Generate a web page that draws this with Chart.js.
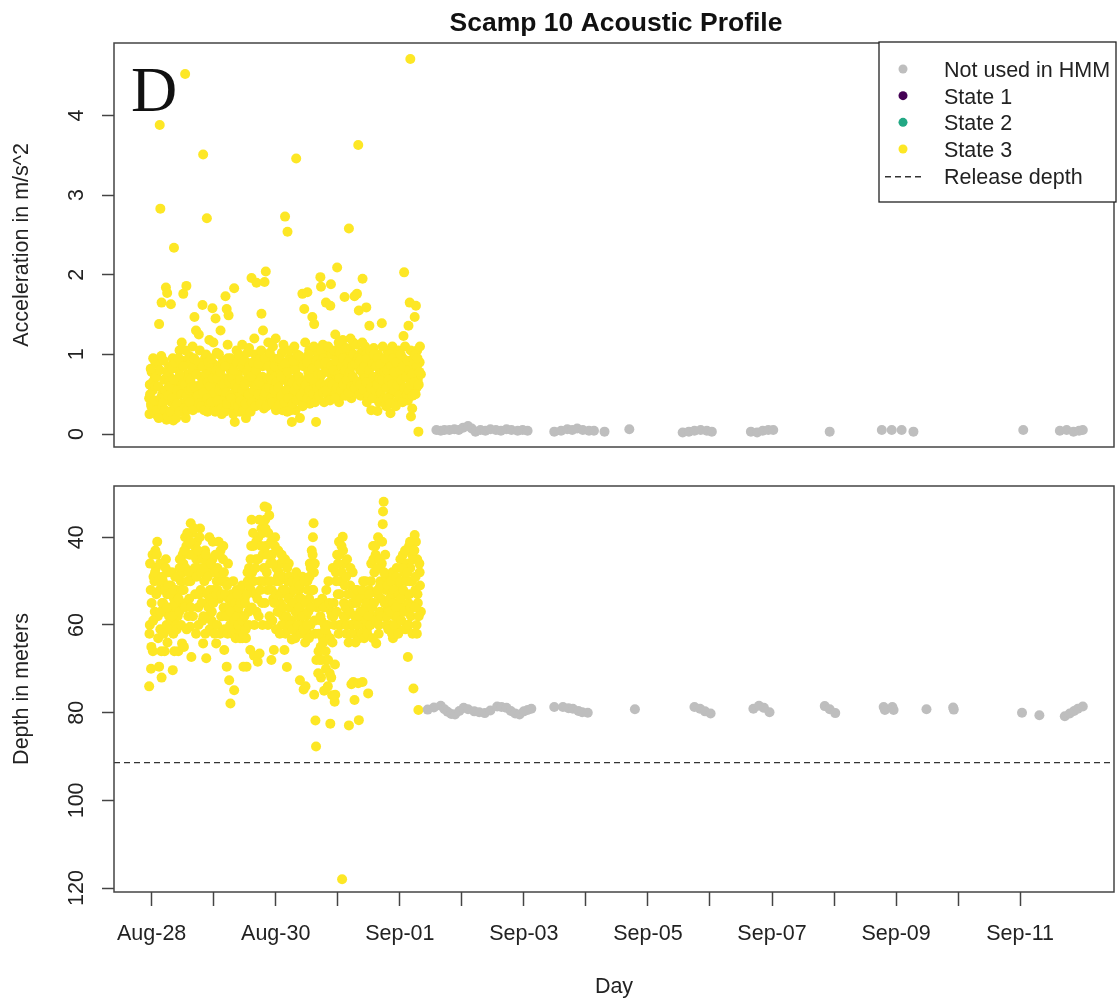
<!DOCTYPE html>
<html>
<head>
<meta charset="utf-8">
<title>Scamp 10 Acoustic Profile</title>
<script src="https://cdn.jsdelivr.net/npm/chart.js@4.4.1/dist/chart.umd.min.js"></script>
<style>
  html, body { margin: 0; padding: 0; background: #fff; }
  #wrap { position: relative; width: 1119px; height: 1001px; }
  canvas { position: absolute; left: 0; }
  #accelChart { top: 0; }
  #depthChart { top: 460px; }
</style>
</head>
<body>
<div id="wrap">
  <canvas id="accelChart" width="1119" height="460"></canvas>
  <canvas id="depthChart" width="1119" height="541"></canvas>
</div>
<script>
'use strict';

// days since Aug-28 00:00
const dayTicks = [0, 1, 2, 3, 4, 5, 6, 7, 8, 9, 10, 11, 12, 13, 14];
const dayLabels = ['Aug-28', '', 'Aug-30', '', 'Sep-01', '', 'Sep-03', '', 'Sep-05', '', 'Sep-07', '', 'Sep-09', '', 'Sep-11'];
const accelTicks = [0, 1, 2, 3, 4];
const depthTicks = [40, 60, 80, 100, 120];
const releaseDepth = 91.4;

const chartTitle = 'Scamp 10 Acoustic Profile';
const panelLetter = 'D';
const legendLabels = ['Not used in HMM', 'State 1', 'State 2', 'State 3', 'Release depth'];

// State 3 detections (same detections in both panels)
const yellowDay = [
  -0.04, -0.03, -0.01, 0.00, 0.02, 0.03, 0.05, 0.06,
  0.07, 0.09, 0.10, 0.12, 0.13, 0.14, 0.16, 0.17,
  0.18, 0.20, 0.21, 0.23, 0.24, 0.25, 0.27, 0.28,
  0.29, 0.31, 0.32, 0.34, 0.35, 0.36, 0.38, 0.39,
  0.40, 0.42, 0.43, 0.45, 0.46, 0.47, 0.49, 0.50,
  0.51, 0.52, 0.54, 0.55, 0.56, 0.58, 0.59, 0.61,
  0.62, 0.63, 0.64, 0.66, 0.67, 0.69, 0.70, 0.72,
  0.73, 0.75, 0.76, 0.78, 0.79, 0.81, 0.82, 0.83,
  0.85, 0.86, 0.88, 0.89, 0.90, 0.92, 0.93, 0.94,
  0.95, 0.97, 0.98, 1.00, 1.01, 1.03, 1.04, 1.05,
  1.06, 1.08, 1.09, 1.11, 1.12, 1.13, 1.15, 1.16,
  1.17, 1.19, 1.20, 1.21, 1.23, 1.24, 1.25, 1.27,
  1.28, 1.30, 1.31, 1.33, 1.34, 1.35, 1.37, 1.38,
  1.39, 1.41, 1.42, 1.44, 1.45, 1.46, 1.48, 1.49,
  1.50, 1.52, 1.53, 1.55, 1.56, 1.57, 1.59, 1.60,
  1.61, 1.62, 1.64, 1.65, 1.67, 1.68, 1.69, 1.71,
  1.72, 1.74, 1.75, 1.77, 1.78, 1.79, 1.81, 1.82,
  1.83, 1.84, 1.86, 1.87, 1.88, 1.90, 1.91, 1.93,
  1.94, 1.96, 1.97, 1.99, 2.00, 2.01, 2.03, 2.04,
  2.05, 2.07, 2.08, 2.10, 2.11, 2.12, 2.14, 2.15,
  2.16, 2.18, 2.19, 2.21, 2.22, 2.23, 2.25, 2.26,
  2.27, 2.29, 2.30, 2.32, 2.33, 2.34, 2.36, 2.37,
  2.38, 2.39, 2.41, 2.42, 2.43, 2.45, 2.46, 2.48,
  2.49, 2.51, 2.52, 2.54, 2.55, 2.56, 2.58, 2.59,
  2.60, 2.61, 2.62, 2.63, 2.64, 2.65, 2.67, 2.69,
  2.71, 2.72, 2.73, 2.75, 2.76, 2.78, 2.79, 2.81,
  2.82, 2.84, 2.85, 2.87, 2.88, 2.89, 2.91, 2.92,
  2.93, 2.95, 2.96, 2.97, 2.99, 3.00, 3.02, 3.03,
  3.04, 3.06, 3.07, 3.08, 3.10, 3.11, 3.13, 3.14,
  3.15, 3.17, 3.18, 3.20, 3.21, 3.22, 3.24, 3.25,
  3.26, 3.27, 3.29, 3.30, 3.31, 3.33, 3.34, 3.36,
  3.37, 3.38, 3.40, 3.41, 3.43, 3.44, 3.46, 3.47,
  3.48, 3.49, 3.51, 3.52, 3.54, 3.55, 3.57, 3.58,
  3.59, 3.61, 3.62, 3.64, 3.65, 3.66, 3.68, 3.69,
  3.70, 3.71, 3.73, 3.74, 3.75, 3.77, 3.78, 3.80,
  3.81, 3.82, 3.84, 3.85, 3.86, 3.88, 3.89, 3.91,
  3.92, 3.94, 3.95, 3.97, 3.98, 3.99, 4.01, 4.02,
  4.03, 4.05, 4.06, 4.07, 4.09, 4.10, 4.12, 4.13,
  4.14, 4.15, 4.16, 4.17, 4.18, 4.20, 4.22, 4.24,
  4.25, 4.26, 4.27, 4.28, 4.29, 4.30, 4.32, 4.34,
  -0.035, -0.025, -0.015, -0.005, 0.015, 0.025, 0.045, 0.055,
  0.075, 0.085, 0.105, 0.115, 0.135, 0.145, 0.155, 0.175,
  0.185, 0.195, 0.215, 0.225, 0.245, 0.255, 0.265, 0.285,
  0.295, 0.305, 0.325, 0.335, 0.355, 0.365, 0.375, 0.395,
  0.405, 0.415, 0.435, 0.445, 0.455, 0.475, 0.485, 0.505,
  0.515, 0.525, 0.535, 0.545, 0.565, 0.575, 0.595, 0.605,
  0.615, 0.625, 0.635, 0.655, 0.665, 0.685, 0.695, 0.715,
  0.725, 0.745, 0.755, 0.765, 0.775, 0.795, 0.805, 0.825,
  0.835, 0.845, 0.865, 0.875, 0.895, 0.905, 0.915, 0.935,
  0.945, 0.955, 0.965, 0.985, 0.995, 1.015, 1.025, 1.045,
  1.055, 1.065, 1.085, 1.095, 1.105, 1.125, 1.135, 1.155,
  1.165, 1.175, 1.185, 1.205, 1.215, 1.225, 1.245, 1.265,
  1.275, 1.285, 1.305, 1.315, 1.325, 1.345, 1.355, 1.375,
  1.385, 1.395, 1.405, 1.425, 1.435, 1.455, 1.465, 1.475,
  1.495, 1.505, 1.515, 1.535, 1.545, 1.565, 1.575, 1.595,
  1.605, 1.615, 1.635, 1.645, 1.655, 1.675, 1.685, 1.705,
  1.715, 1.725, 1.735, 1.755, 1.765, 1.785, 1.795, 1.815,
  1.825, 1.835, 1.855, 1.865, 1.875, 1.895, 1.905, 1.925,
  1.935, 1.945, 1.955, 1.975, 1.985, 2.005, 2.015, 2.035,
  2.045, 2.055, 2.065, 2.085, 2.095, 2.115, 2.125, 2.145,
  2.155, 2.175, 2.185, 2.195, 2.205, 2.215, 2.235, 2.245,
  2.265, 2.275, 2.285, 2.305, 2.315, 2.335, 2.345, 2.355,
  2.375, 2.385, 2.405, 2.415, 2.435, 2.445, 2.465, 2.475,
  2.485, 2.505, 2.515, 2.525, 2.535, 2.545, 2.565, 2.575,
  2.595, 2.605, 2.615, 2.625, 2.635, 2.655, 2.665, 2.685,
  2.695, 2.705, 2.725, 2.735, 2.745, 2.765, 2.775, 2.795,
  2.805, 2.815, 2.835, 2.845, 2.865, 2.875, 2.895, 2.905,
  2.915, 2.935, 2.945, 2.955, 2.975, 2.985, 3.005, 3.015,
  3.025, 3.035, 3.055, 3.065, 3.085, 3.095, 3.115, 3.125,
  3.135, 3.145, 3.165, 3.175, 3.195, 3.205, 3.225, 3.235,
  3.245, 3.255, 3.275, 3.285, 3.305, 3.315, 3.325, 3.345,
  3.355, 3.365, 3.385, 3.395, 3.415, 3.425, 3.445, 3.455,
  3.465, 3.475, 3.495, 3.505, 3.525, 3.535, 3.555, 3.565,
  3.575, 3.585, 3.605, 3.615, 3.635, 3.645, 3.665, 3.675,
  3.685, 3.695, 3.715, 3.725, 3.745, 3.755, 3.765, 3.785,
  3.795, 3.805, 3.815, 3.835, 3.845, 3.865, 3.875, 3.895,
  3.905, 3.915, 3.935, 3.945, 3.965, 3.975, 3.985, 4.005,
  4.015, 4.025, 4.045, 4.055, 4.075, 4.085, 4.105, 4.115,
  4.125, 4.145, 4.155, 4.165, 4.175, 4.195, 4.205, 4.215,
  4.235, 4.245, 4.255, 4.275, 4.285, 4.305, 4.315, 4.325
];

const yellowAccel = [
  0.45, 0.62, 0.38, 0.78, 0.55, 0.30, 0.70, 0.90,
  0.35, 0.88, 0.22, 1.38, 3.88, 2.83, 1.65, 0.50,
  0.25, 0.68, 0.42, 1.84, 0.18, 1.77, 0.58, 0.85,
  0.72, 1.63, 0.40, 0.95, 0.17, 2.34, 0.55, 0.30,
  0.48, 0.82, 0.62, 1.05, 0.30, 0.70, 0.38, 0.92,
  1.76, 0.55, 4.52, 0.20, 1.86, 0.75, 0.42, 0.98,
  0.65, 0.90, 0.35, 1.10, 0.52, 1.47, 0.78, 0.44,
  0.60, 0.33, 1.25, 0.85, 0.50, 0.70, 1.62, 3.51,
  0.40, 0.95, 0.62, 2.71, 0.28, 0.80, 1.18, 0.55,
  0.72, 0.45, 1.58, 0.88, 0.32, 1.45, 0.60, 1.02,
  0.50, 0.85, 0.38, 1.30, 0.66, 0.25, 0.92, 0.58,
  0.45, 1.73, 0.70, 1.57, 0.95, 1.49, 0.35, 0.80,
  0.62, 0.30, 0.88, 1.83, 0.15, 0.55, 1.05, 0.42,
  0.75, 0.48, 0.28, 0.95, 0.60, 1.12, 0.40, 0.82,
  0.55, 0.20, 0.90, 0.45, 0.72, 1.08, 0.36, 0.65,
  1.96, 0.50, 0.78, 0.35, 1.00, 0.62, 1.90, 0.45,
  0.70, 0.42, 0.95, 1.51, 0.58, 0.85, 0.32, 1.91,
  0.60, 2.04, 0.88, 0.45, 1.15, 0.68, 0.40, 0.78,
  0.52, 0.95, 0.36, 0.72, 1.20, 0.48, 0.85, 0.62,
  0.42, 0.80, 0.55, 1.02, 0.30, 0.68, 0.90, 2.73,
  0.75, 0.40, 2.54, 0.62, 0.95, 0.35, 0.58, 0.15,
  0.85, 0.50, 1.10, 0.30, 3.46, 0.72, 0.45, 0.92,
  0.60, 0.20, 0.88, 0.40, 1.76, 0.66, 1.57, 0.95,
  0.48, 1.78, 0.70, 1.05, 0.38, 0.82, 0.58, 1.47,
  0.92, 0.60, 1.38, 0.45, 0.78, 0.15, 1.02, 0.52,
  0.70, 1.97, 1.85, 0.55, 1.12, 0.40, 0.85, 1.65,
  0.62, 1.00, 0.45, 0.88, 1.61, 1.88, 0.72, 0.50,
  0.85, 0.52, 1.25, 0.68, 2.09, 0.95, 0.40, 1.10,
  0.58, 0.90, 0.48, 1.18, 0.75, 1.72, 0.62, 1.00,
  0.82, 0.55, 2.58, 1.05, 0.70, 0.45, 0.92, 1.15,
  0.65, 1.73, 0.90, 0.52, 1.76, 3.63, 1.55, 0.80,
  0.48, 1.02, 1.95, 0.75, 0.60, 1.10, 1.59, 0.40,
  0.85, 0.55, 1.36, 0.72, 0.30, 0.95, 0.62, 1.08,
  0.50, 0.88, 0.68, 0.29, 1.00, 0.45, 0.78, 0.58,
  0.75, 1.39, 0.42, 0.95, 0.60, 0.82, 0.35, 1.05,
  0.62, 0.90, 0.48, 0.26, 0.78, 1.10, 0.55, 0.70,
  0.85, 0.40, 1.00, 0.65, 0.52, 0.92, 0.72, 0.45,
  0.60, 0.95, 1.23, 2.03, 0.75, 0.50, 0.88, 0.42,
  1.36, 0.70, 1.65, 4.71, 0.22, 0.32, 0.95, 1.47,
  0.80, 1.61, 0.58, 1.05, 0.68, 0.03, 0.90, 0.75,
  0.25, 0.50, 0.82, 0.35, 0.65, 0.95, 0.42, 0.60,
  0.72, 0.30, 0.60, 0.20, 0.80, 0.45, 0.98, 0.35,
  0.40, 0.92, 0.30, 0.55, 0.78, 0.22, 0.48, 0.65,
  0.60, 0.28, 0.82, 0.45, 0.68, 0.36, 0.90, 0.20,
  0.38, 0.55, 0.95, 0.28, 0.75, 0.50, 1.15, 0.62,
  0.85, 0.32, 0.62, 1.05, 0.48, 0.30, 0.70, 0.55,
  0.40, 0.68, 0.58, 0.82, 0.30, 0.95, 0.60, 1.30,
  0.75, 0.48, 0.90, 0.38, 1.05, 0.62, 0.35, 0.85,
  0.52, 0.30, 0.75, 1.00, 0.45, 0.65, 0.90, 0.38,
  0.60, 0.95, 0.40, 0.70, 1.15, 0.52, 0.28, 0.80,
  0.70, 0.42, 1.00, 0.55, 0.78, 0.32, 0.62, 0.88,
  0.62, 0.28, 0.85, 0.52, 0.38, 1.12, 0.66, 0.48,
  0.95, 0.45, 0.70, 0.25, 0.80, 0.62, 0.38, 0.90,
  0.58, 0.35, 1.00, 0.68, 0.42, 0.85, 0.55, 0.30,
  0.92, 0.62, 0.38, 0.78, 1.02, 0.50, 0.85, 0.28,
  0.72, 0.40, 0.90, 0.55, 1.20, 0.35, 0.80, 0.62,
  0.50, 0.88, 0.65, 0.38, 1.05, 0.72, 1.30, 0.48,
  0.95, 0.52, 0.35, 0.70, 0.85, 0.58, 1.02, 0.45,
  0.68, 0.40, 1.10, 0.55, 0.85, 0.30, 0.65, 0.92,
  0.58, 0.95, 0.38, 0.72, 0.48, 0.85, 1.12, 0.40,
  0.88, 0.55, 0.28, 0.78, 0.45, 1.05, 0.68, 0.30,
  0.65, 0.38, 0.92, 0.55, 0.80, 0.42, 1.00, 0.62,
  0.72, 0.98, 0.48, 0.65, 0.35, 0.85, 0.55, 1.15,
  0.62, 0.90, 0.45, 0.78, 1.00, 0.55, 0.70, 0.42,
  0.82, 0.50, 1.10, 0.65, 0.40, 0.92, 0.58, 0.75,
  0.48, 0.88, 0.62, 1.05, 0.75, 0.52, 0.95, 0.60,
  0.90, 0.55, 0.78, 1.10, 0.65, 0.42, 0.85, 1.00,
  0.62, 0.80, 1.05, 0.45, 0.92, 0.58, 0.75, 1.15,
  0.70, 1.02, 0.55, 0.85, 0.95, 0.62, 0.80, 0.48,
  1.08, 0.68, 0.90, 0.52, 0.78, 1.20, 0.60, 0.85,
  0.72, 1.00, 0.58, 0.88, 1.12, 0.66, 0.95, 0.50,
  0.92, 0.62, 0.80, 1.15, 0.55, 0.85, 0.70, 1.00,
  0.65, 0.95, 0.48, 0.80, 1.05, 0.58, 0.88, 0.45,
  0.72, 1.00, 0.55, 0.85, 0.62, 0.95, 0.40, 0.70,
  0.88, 0.52, 0.68, 1.10, 0.45, 0.78, 0.95, 0.58,
  0.80, 0.45, 0.68, 1.00, 0.38, 0.85, 0.62, 0.95,
  0.55, 0.78, 0.35, 0.90, 0.62, 1.05, 0.48, 0.80,
  1.00, 0.68, 0.40, 0.85, 0.58, 1.10, 0.72, 0.50,
  0.92, 0.55, 0.80, 0.62, 1.05, 0.75, 0.48, 0.88,
  0.65, 1.00, 0.50, 0.85, 0.95, 0.62, 0.78, 1.10
];

const yellowDepth = [
  74, 60, 70, 55, 66, 49, 57, 43,
  47, 41, 58, 69.5, 52, 61, 72, 55,
  50, 57, 66, 45, 60, 53, 48, 58,
  56, 51, 59, 70.3, 62, 54, 49, 57,
  52, 58, 66, 47, 55, 50, 64.2, 44,
  46, 65, 40, 55, 42, 50, 58, 44,
  60.4, 36.8, 67.3, 39, 48, 42, 53, 45,
  41, 56, 47, 38, 52, 44, 59, 64.2,
  50, 43, 67.6, 55, 46, 58, 40, 52,
  48, 57, 45, 52, 60, 44, 64.2, 50,
  47, 41, 54, 43, 58, 50, 45, 56,
  65.7, 50, 57, 69.5, 46, 54, 72.6, 77.9,
  53, 60, 56, 74.9, 62, 58, 52, 55,
  57, 54, 61, 52, 58, 63, 69.5, 55,
  54, 63, 69.5, 50, 57, 47, 65.7, 52,
  36, 48, 42, 67, 53, 45, 57, 68.4,
  40, 66.5, 50, 38, 55, 44, 47, 33,
  36, 42, 33.2, 52, 39, 58, 46, 68,
  44, 54, 65.7, 40, 50, 47, 57, 43,
  48, 55, 46, 60, 52, 58, 65.7, 45,
  62, 69.6, 50, 46, 56, 53, 59, 63.3,
  55, 51, 60, 57, 48, 62, 54, 58,
  52, 72.6, 57, 60, 49, 74.7, 55, 74,
  58, 50, 62, 54, 46, 60, 43, 52,
  40, 36.8, 75.9, 46, 81.8, 87.7, 56, 66,
  68, 58, 72, 54, 63, 75, 60, 70,
  62, 74, 50, 71, 82.5, 57, 76, 47,
  58, 77.5, 75.9, 48, 44, 53, 41, 60,
  50, 42, 118, 39.9, 55, 46, 58, 62,
  45, 56, 82.9, 51, 60, 73.5, 48, 73,
  55, 77.1, 52, 58, 62, 73.3, 81.7, 57,
  53, 58, 73, 50, 60, 56, 54, 61,
  56, 75.6, 52, 60, 46, 55, 42, 58,
  48, 44, 64.2, 53, 40, 62, 57, 50,
  54, 46, 34.1, 31.9, 58, 52, 49, 56,
  52, 57, 50, 60, 55, 48, 63, 53,
  58, 50, 47, 55, 61, 52, 45, 57,
  50, 44, 56, 48, 61, 53, 46, 67.3,
  55, 42, 50, 47, 58, 44, 74.5, 39.5,
  52, 41, 60, 45, 55, 79.4, 48, 57,
  62, 46, 52, 65, 44, 59, 50, 48,
  53, 44, 63, 50, 46, 57, 66, 49,
  55, 62, 52, 47, 56, 64, 51, 60,
  53, 61, 48, 58, 52, 66, 55, 60,
  61, 49, 54, 57, 45, 60, 52, 48,
  52, 43, 56, 47, 61, 39, 48, 54,
  41, 50, 56, 44, 58, 38, 47, 62,
  49, 43, 60, 53, 40, 48, 55, 45,
  58, 47, 62, 44, 53, 49, 56, 61,
  54, 46, 59, 41, 55, 62, 48, 53,
  60, 52, 48, 44, 62, 53, 58, 42,
  48, 61, 53, 58, 51, 62, 56, 60,
  57, 54, 62, 50, 59, 55, 63, 58,
  53, 60, 56, 63, 55, 51, 59, 62,
  58, 55, 61, 53, 48, 60, 51, 45,
  42, 56, 39, 50, 60, 47, 41, 54,
  45, 58, 36, 52, 42, 60, 39, 50,
  55, 38, 48, 44, 60, 35, 50, 41,
  52, 59, 46, 55, 42, 61, 53, 49,
  57, 50, 62, 53, 44, 49, 56, 60,
  52, 58, 47, 61, 54, 49, 60, 56,
  50, 61, 55, 52, 63, 57, 50, 60,
  56, 51, 62, 54, 58, 61, 50, 64,
  55, 60, 52, 57, 63, 49, 47, 56,
  44, 52, 48, 59, 62, 68, 55, 71,
  62, 55, 65, 59, 68, 64, 56, 61,
  66, 52, 60, 68, 55, 63, 72, 58,
  64, 55, 60, 69, 50, 57, 46, 62,
  44, 53, 60, 48, 43, 58, 51, 56,
  49, 60, 53, 64, 57, 47, 62, 55,
  60, 53, 58, 64, 55, 52, 60, 63,
  58, 54, 62, 52, 57, 63, 50, 59,
  55, 62, 58, 53, 60, 50, 56, 63,
  45, 55, 42, 59, 47, 52, 60, 45,
  51, 58, 41, 37, 48, 55, 44, 60,
  58, 51, 61, 54, 57, 50, 62, 55,
  52, 60, 56, 49, 58, 62, 53, 50,
  54, 59, 47, 52, 57, 43, 50, 60,
  48, 60, 53, 41, 56, 50, 62, 45,
  43, 56, 49, 62, 53, 58, 46, 51
];

// detections not used in the HMM
const grayAccelDay = [
  4.59, 4.66, 4.72, 4.80, 4.88, 4.95, 5.02, 5.10, 5.16, 5.22,
  5.30, 5.38, 5.46, 5.55, 5.63, 5.72, 5.80, 5.90, 5.98, 6.06,
  6.49, 6.60, 6.70, 6.78, 6.86, 6.95, 7.05, 7.13, 7.30, 7.70,
  8.56, 8.66, 8.75, 8.85, 8.95, 9.03, 9.66, 9.76, 9.85, 9.94,
  10.02, 10.93, 11.77, 11.93, 12.09, 12.28, 14.05, 14.64, 14.75, 14.86,
  14.95, 15.01
];
const grayAccel = [
  0.05, 0.04, 0.05, 0.05, 0.06, 0.05, 0.08, 0.10, 0.07, 0.03,
  0.05, 0.04, 0.06, 0.05, 0.04, 0.06, 0.05, 0.04, 0.05, 0.04,
  0.03, 0.04, 0.06, 0.05, 0.07, 0.05, 0.04, 0.04, 0.03, 0.06,
  0.02, 0.03, 0.04, 0.05, 0.04, 0.03, 0.03, 0.02, 0.04, 0.05,
  0.05, 0.03, 0.05, 0.05, 0.05, 0.03, 0.05, 0.04, 0.05, 0.03,
  0.04, 0.05
];

const grayDepthDay = [
  4.45, 4.55, 4.66, 4.72, 4.77, 4.83, 4.89, 4.96, 5.03, 5.10,
  5.20, 5.28, 5.37, 5.46, 5.57, 5.64, 5.72, 5.79, 5.86, 5.93,
  6.00, 6.06, 6.12, 6.49, 6.63, 6.72, 6.79, 6.88, 6.94, 7.03,
  7.79, 8.75, 8.84, 8.92, 9.01, 9.70, 9.79, 9.87, 9.96, 10.85,
  10.93, 11.02, 11.80, 11.82, 11.94, 11.96, 12.49, 12.92, 12.93, 14.03,
  14.31, 14.72, 14.80, 14.87, 14.93, 15.01
];
const grayDepth = [
  79.3, 78.8, 78.4, 79.2, 79.8, 80.3, 80.4, 79.6, 78.9, 79.2,
  79.7, 79.9, 80.1, 79.5, 78.6, 78.7, 78.9, 79.6, 80.2, 80.4,
  79.7, 79.4, 79.1, 78.7, 78.7, 79.0, 79.1, 79.6, 79.9, 80.0,
  79.2, 78.7, 79.1, 79.7, 80.2, 79.1, 78.4, 78.9, 79.9, 78.5,
  79.2, 80.1, 78.7, 79.4, 78.7, 79.4, 79.2, 78.8, 79.3, 80.0,
  80.6, 80.8, 80.2, 79.6, 79.1, 78.6
];

// axis extents (R adds 4% either side)
const X_MIN = -0.607;
const X_MAX = 15.513;

const GRAY = '#bebebe';
const PURPLE = '#440154';
const GREEN = '#22a884';
const YELLOW = '#fde725';
const DARK = '#222';
const AXIS = '#444';
const legendColors = [GRAY, PURPLE, GREEN, YELLOW, '#333'];

const sans = '"Liberation Sans", Arial, Helvetica, sans-serif';
const baseFont = { family: sans, size: 21.5 };

function pairs(xs, ys) {
  return xs.map((x, i) => ({ x: x, y: ys[i] }));
}

function pointSet(label, xs, ys, color) {
  return {
    label: label,
    data: pairs(xs, ys),
    backgroundColor: color,
    borderWidth: 0,
    pointRadius: 5,
    pointHoverRadius: 5
  };
}

// box round each panel, like R's box()
const frame = {
  id: 'frame',
  afterDraw(chart) {
    const { ctx, chartArea: a } = chart;
    ctx.save();
    ctx.strokeStyle = AXIS;
    ctx.lineWidth = 1.5;
    ctx.strokeRect(a.left, a.top, a.right - a.left, a.bottom - a.top);
    ctx.restore();
  }
};

// title, panel letter and legend box on the top panel
const topDecor = {
  id: 'topDecor',
  afterDraw(chart) {
    const ctx = chart.ctx;
    ctx.save();
    ctx.fillStyle = '#111';
    ctx.textAlign = 'center';
    ctx.textBaseline = 'middle';
    ctx.font = 'bold 26.5px ' + sans;
    ctx.fillText(chartTitle, 616, 24);

    ctx.textAlign = 'left';
    ctx.textBaseline = 'alphabetic';
    ctx.font = '64px "Liberation Serif", "Times New Roman", serif';
    ctx.fillText(panelLetter, 131, 111);

    // legend
    const bx = 879, by = 42, bw = 237, bh = 160;
    ctx.fillStyle = '#fff';
    ctx.fillRect(bx, by, bw, bh);
    ctx.strokeStyle = '#222';
    ctx.lineWidth = 1.3;
    ctx.strokeRect(bx, by, bw, bh);
    ctx.font = '21.5px ' + sans;
    ctx.textBaseline = 'middle';
    legendLabels.forEach((txt, i) => {
      const y = 70 + i * 26.67;
      if (i < 4) {
        ctx.fillStyle = legendColors[i];
        ctx.beginPath();
        ctx.arc(903, y - 1, 4.5, 0, Math.PI * 2);
        ctx.fill();
      } else {
        ctx.strokeStyle = legendColors[i];
        ctx.lineWidth = 1.5;
        ctx.setLineDash([6, 4]);
        ctx.beginPath();
        ctx.moveTo(885, y);
        ctx.lineTo(924, y);
        ctx.stroke();
        ctx.setLineDash([]);
      }
      ctx.fillStyle = DARK;
      ctx.fillText(txt, 944, y + 1);
    });
    ctx.restore();
  }
};

function yAxis(min, max, tickValues, reverse, labelPad, titleText) {
  return {
    type: 'linear',
    min: min,
    max: max,
    reverse: reverse,
    afterFit: s => {
      s.width = 114;
      s.paddingTop = 0;
      s.paddingBottom = 0;
    },
    afterBuildTicks: s => { s.ticks = tickValues.map(v => ({ value: v })); },
    border: { display: false },
    grid: { drawOnChartArea: false, tickLength: 12, tickColor: AXIS, tickWidth: 1.5 },
    ticks: {
      minRotation: 90, maxRotation: 90, crossAlign: 'center',
      padding: labelPad, font: baseFont, color: DARK
    },
    title: {
      display: true, text: titleText, font: baseFont, color: DARK,
      padding: { top: 9, bottom: 0 }
    }
  };
}

function populateAccelChart() {
  const ctx = document.getElementById('accelChart').getContext('2d');
  new Chart(ctx, {
    type: 'scatter',
    data: {
      datasets: [
        pointSet('Not used in HMM', grayAccelDay, grayAccel, GRAY),
        pointSet('State 3', yellowDay, yellowAccel, YELLOW)
      ]
    },
    options: {
      responsive: false,
      animation: false,
      devicePixelRatio: 1,
      events: [],
      layout: { padding: { top: 43, right: 3, bottom: 13, left: 0 } },
      plugins: { legend: { display: false }, tooltip: { enabled: false } },
      scales: {
        x: { type: 'linear', min: X_MIN, max: X_MAX, display: false },
        y: yAxis(-0.163, 4.91, accelTicks, false, 19, 'Acceleration in m/s^2')
      }
    },
    plugins: [frame, topDecor]
  });
}

function populateDepthChart() {
  const ctx = document.getElementById('depthChart').getContext('2d');
  new Chart(ctx, {
    type: 'scatter',
    data: {
      datasets: [
        pointSet('Not used in HMM', grayDepthDay, grayDepth, GRAY),
        pointSet('State 3', yellowDay, yellowDepth, YELLOW),
        {
          type: 'line',
          label: 'Release depth',
          data: [{ x: X_MIN, y: releaseDepth }, { x: X_MAX, y: releaseDepth }],
          borderColor: '#333',
          borderWidth: 1.4,
          borderDash: [6, 4],
          pointRadius: 0,
          fill: false
        }
      ]
    },
    options: {
      responsive: false,
      animation: false,
      devicePixelRatio: 1,
      events: [],
      layout: { padding: { top: 26, right: 3, bottom: 0, left: 0 } },
      plugins: { legend: { display: false }, tooltip: { enabled: false } },
      scales: {
        x: {
          type: 'linear',
          min: X_MIN,
          max: X_MAX,
          afterFit: s => {
            s.height = 109;
            s.paddingLeft = 0;
            s.paddingRight = 0;
          },
          afterBuildTicks: s => { s.ticks = dayTicks.map(v => ({ value: v })); },
          border: { display: false },
          grid: { drawOnChartArea: false, tickLength: 14, tickColor: AXIS, tickWidth: 1.5 },
          ticks: {
            autoSkip: false, minRotation: 0, maxRotation: 0, padding: 15,
            font: baseFont, color: DARK,
            callback: (v, i) => dayLabels[i]
          },
          title: {
            display: true, text: 'Day', font: baseFont, color: DARK,
            padding: { top: 0, bottom: 1 }
          }
        },
        y: yAxis(28.3, 120.9, depthTicks, true, 7, 'Depth in meters')
      }
    },
    plugins: [frame]
  });
}

populateAccelChart();
populateDepthChart();
</script>
</body>
</html>
